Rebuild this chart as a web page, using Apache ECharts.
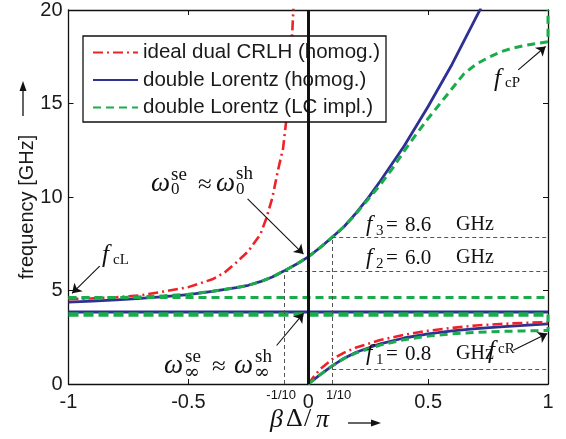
<!DOCTYPE html>
<html><head><meta charset="utf-8">
<script src="https://cdn.jsdelivr.net/npm/echarts@6/dist/echarts.min.js"></script>
<style>html,body{margin:0;padding:0;background:#fff}#c{width:566px;height:439px}</style>
</head><body><div id="c"></div>
<script>
// ---- data ----
const xTicks = [-1, -0.5, 0, 0.5, 1];
const yTicks = [0, 5, 10, 15, 20];
const legendNames = ['ideal dual CRLH (homog.)', 'double Lorentz (homog.)', 'double Lorentz (LC impl.)'];

const redUpperX = [-1, -0.9, -0.8, -0.7, -0.6, -0.5, -0.4, -0.35, -0.3, -0.25, -0.2, -0.175, -0.15, -0.125, -0.105, -0.09, -0.075, -0.063, -0.06];
const redUpperY = [4.53, 4.58, 4.64, 4.74, 4.95, 5.18, 5.6, 5.95, 6.5, 7.1, 8.0, 8.85, 9.95, 11.5, 12.6, 14.3, 16.6, 19.8, 20.5];
const redLowerX = [0, 0.025, 0.05, 0.1, 0.15, 0.2, 0.3, 0.4, 0.5, 0.6, 0.7, 0.8, 0.9, 1];
const redLowerY = [0, 0.42, 0.8, 1.33, 1.68, 1.95, 2.35, 2.63, 2.85, 3.0, 3.13, 3.21, 3.27, 3.3];

const blueUpperX = [-1, -0.9, -0.8, -0.7, -0.6, -0.5, -0.4, -0.3, -0.25, -0.2, -0.15, -0.1, -0.05, 0, 0.05, 0.1, 0.15, 0.2, 0.25, 0.3, 0.4, 0.5, 0.6, 0.7, 0.72];
const blueUpperY = [4.38, 4.43, 4.5, 4.58, 4.67, 4.78, 4.95, 5.15, 5.28, 5.47, 5.72, 6.05, 6.4, 6.8, 7.3, 7.85, 8.42, 9.15, 9.95, 10.84, 12.73, 14.84, 17.1, 19.6, 20.1];
const blueLowerX = [0, 0.05, 0.1, 0.15, 0.2, 0.3, 0.4, 0.5, 0.6, 0.7, 0.8, 0.9, 1];
const blueLowerY = [0, 0.5, 0.97, 1.38, 1.7, 2.15, 2.46, 2.68, 2.84, 2.96, 3.06, 3.14, 3.21];
const blueFlatX = [-1, 1];
const blueFlatY = [3.85, 3.85];

const greenUpperX = [-1, -0.9, -0.8, -0.7, -0.6, -0.5, -0.4, -0.3, -0.25, -0.2, -0.15, -0.1, -0.05, 0, 0.05, 0.1, 0.15, 0.2, 0.25, 0.3, 0.35, 0.4, 0.45, 0.5, 0.55, 0.6, 0.65, 0.7, 0.75, 0.8, 0.85, 0.9, 0.95, 1, 1];
const greenUpperY = [4.6, 4.6, 4.62, 4.66, 4.72, 4.8, 4.96, 5.15, 5.28, 5.47, 5.72, 6.05, 6.4, 6.8, 7.3, 7.85, 8.42, 9.12, 9.88, 10.65, 11.5, 12.45, 13.35, 14.2, 15.0, 15.8, 16.6, 17.1, 17.45, 17.75, 17.95, 18.1, 18.2, 18.3, 20];
const greenLowerX = [0, 0.05, 0.1, 0.15, 0.2, 0.3, 0.4, 0.5, 0.6, 0.7, 0.8, 0.9, 1, 1];
const greenLowerY = [0, 0.5, 0.97, 1.37, 1.67, 2.08, 2.37, 2.56, 2.68, 2.76, 2.81, 2.84, 2.86, 3.72];
const greenFlatHighX = [-1, 1];
const greenFlatHighY = [4.62, 4.62];
const greenFlatLowX = [-1, 1];
const greenFlatLowY = [3.72, 3.72];

// reference dashed lines: [x1, y1, x2, y2]
const f1 = 0.8, f2 = 6.05, f3 = 7.85;
const refLines = [
  [0.1, f1, 1, f1],
  [-0.1, f2, 1, f2],
  [0.1, f3, 1, f3],
  [-0.1, 0, -0.1, f2],
  [0.1, 0, 0.1, f3]
];
// annotation arrows: [fromX, fromY, toX, toY]
const arrows = [
  [-0.253, 9.9, -0.02, 6.95],
  [-0.132, 2.06, -0.02, 3.78],
  [-0.87, 6.3, -0.985, 4.85],
  [0.876, 16.8, 0.99, 18.05],
  [0.855, 1.8, 0.997, 2.7]
];

// ---- build ----
const zip = (xs, ys) => xs.map((x, i) => [x, ys[i]]);
const RED = '#ee2229', BLUE = '#2e3192', GREEN = '#1aab4b';
const redStyle = { color: RED, width: 2.6, type: [10, 4, 2, 4] };
const blueStyle = { color: BLUE, width: 2.8, type: 'solid' };
const greenStyle = { color: GREEN, width: 3, type: [8, 5] };

function line(name, data, ls, z) {
  return { type: 'line', name, data, showSymbol: false, symbol: 'none', lineStyle: ls, itemStyle: { color: ls.color },
    z, silent: true, animation: false, clip: true, emphasis: { disabled: true } };
}

const series = [
  line(legendNames[0], zip(redUpperX, redUpperY), redStyle, 3),
  line(legendNames[1], zip(blueUpperX, blueUpperY), blueStyle, 2),
  line(legendNames[2], zip(greenUpperX, greenUpperY), greenStyle, 4),
  line(legendNames[0], zip(redLowerX, redLowerY), redStyle, 3),
  line(legendNames[1], zip(blueLowerX, blueLowerY), blueStyle, 2),
  line(legendNames[1], zip(blueFlatX, blueFlatY), blueStyle, 2),
  line(legendNames[2], zip(greenLowerX, greenLowerY), greenStyle, 4),
  line(legendNames[2], zip(greenFlatHighX, greenFlatHighY), greenStyle, 4),
  line(legendNames[2], zip(greenFlatLowX, greenFlatLowY), Object.assign({}, greenStyle, { width: 4.5, type: [10, 5] }), 4),
  { type: 'line', name: 'refs', data: [], silent: true, animation: false, z: 1,
    markLine: { silent: true, animation: false, symbol: ['none', 'none'], label: { show: false },
      lineStyle: { color: '#555', width: 1, type: [4, 3] }, emphasis: { disabled: true },
      data: refLines.map(r => [{ coord: [r[0], r[1]] }, { coord: [r[2], r[3]] }]) } },
  { type: 'line', name: 'zero', data: [], silent: true, animation: false, z: 5,
    markLine: { silent: true, animation: false, symbol: ['none', 'none'], label: { show: false },
      lineStyle: { color: '#111', width: 3, type: 'solid' }, emphasis: { disabled: true },
      data: [{ xAxis: 0 }] } },
  { type: 'line', name: 'arrows', data: [], silent: true, animation: false, z: 6,
    markLine: { silent: true, animation: false, symbol: ['none', 'arrow'], symbolSize: 9, label: { show: false },
      itemStyle: { color: '#111' },
      lineStyle: { color: '#111', width: 1.1, type: 'solid' }, emphasis: { disabled: true },
      data: arrows.map(a => [{ coord: [a[0], a[1]] }, { coord: [a[2], a[3]] }]) } }
];

const SANS = '"Liberation Sans", Arial, sans-serif';
const SERIF = '"Liberation Serif", "DejaVu Serif", serif';
const axisCommon = {
  type: 'value', splitLine: { show: false },
  axisLine: { show: true, onZero: false, lineStyle: { color: '#111', width: 1.3 } },
  axisTick: { show: true, inside: true, length: 5, lineStyle: { color: '#111', width: 1 } }
};

const chart = echarts.init(document.getElementById('c'), null, { renderer: 'canvas' });
chart.setOption({
  animation: false,
  backgroundColor: '#fff',
  grid: { left: 68.5, right: 18, top: 6, bottom: 55, containLabel: false },
  xAxis: [
    Object.assign({}, axisCommon, { position: 'bottom', min: xTicks[0], max: xTicks[xTicks.length - 1], interval: 0.5,
      axisLabel: { show: true, fontSize: 20, fontFamily: SANS, color: '#1a1a1a', margin: 8,
        formatter: v => String(v) } }),
    Object.assign({}, axisCommon, { position: 'top', min: xTicks[0], max: xTicks[xTicks.length - 1], interval: 0.5,
      axisLabel: { show: false } })
  ],
  yAxis: [
    Object.assign({}, axisCommon, { position: 'left', min: yTicks[0], max: yTicks[yTicks.length - 1], interval: 5,
      axisLabel: { show: true, fontSize: 20, fontFamily: SANS, color: '#1a1a1a', margin: 6 } }),
    Object.assign({}, axisCommon, { position: 'right', min: yTicks[0], max: yTicks[yTicks.length - 1], interval: 5,
      axisLabel: { show: false } })
  ],
  legend: {
    data: legendNames, orient: 'vertical', left: 83, top: 36,
    backgroundColor: '#fff', borderColor: '#111', borderWidth: 1.3, borderRadius: 0,
    padding: [6, 6, 4, 9], itemGap: 6.5, itemWidth: 45, itemHeight: 20,
    itemStyle: { opacity: 0 },
    textStyle: { fontSize: 20.5, fontFamily: SANS, color: '#1a1a1a' },
    selectedMode: false
  },
  series
});

// annotation texts
function T(x, y, text, size, opts) {
  opts = opts || {};
  return { type: 'text', x, y, silent: true, z: 100,
    style: { text, fontSize: size, fontFamily: opts.family || (opts.sans ? SANS : SERIF), fontStyle: opts.italic ? 'italic' : 'normal',
      fill: '#111', align: opts.align || 'left', verticalAlign: 'middle' } };
}
const INF = { family: '"DejaVu Serif", serif' };
const g = [];
// omega_0 expression
g.push(T(151, 184, 'ω', 27, { italic: true }), T(171, 175, 'se', 19), T(171, 190, '0', 17),
  T(198, 185, '≈', 25), T(216, 184, 'ω', 27, { italic: true }), T(236, 174, 'sh', 19), T(236, 190, '0', 17));
// omega_inf expression
g.push(T(164, 366, 'ω', 27, { italic: true }), T(185, 357, 'se', 19), T(184, 373, '∞', 19, INF),
  T(212, 367, '≈', 25), T(234, 366, 'ω', 27, { italic: true }), T(255, 357, 'sh', 19), T(254, 373, '∞', 19, INF));
// cutoff labels
g.push(T(102, 255, 'f', 25, { italic: true }), T(113, 260, 'cL', 15));
g.push(T(494, 79, 'f', 25, { italic: true }), T(505, 83, 'cP', 15));
g.push(T(488, 351, 'f', 25, { italic: true }), T(498, 349, 'cR', 15));
// f1, f2, f3 labels
[[3, '8.6', 225], [2, '6.0', 258], [1, '0.8', 354]].forEach(([n, v, y]) => {
  g.push(T(366, y, 'f', 23, { italic: true }), T(376, y + 6, String(n), 15), T(386, y, '=', 21),
    T(405, y, v, 21), T(456, y, 'GHz', 20));
});
// small tick labels
g.push(T(296, 395, '-1/10', 13, { sans: true, align: 'right' }), T(326, 395, '1/10', 13, { sans: true }));
// y axis title and arrow
g.push({ type: 'text', x: 27, y: 207, rotation: Math.PI / 2, silent: true,
  style: { text: 'frequency [GHz]', fontSize: 20, fontFamily: SANS, fill: '#1a1a1a', align: 'center', verticalAlign: 'middle' } });
g.push({ type: 'line', silent: true, shape: { x1: 23, y1: 116, x2: 23, y2: 88 }, style: { stroke: '#111', lineWidth: 1.3 } });
g.push({ type: 'polygon', silent: true, shape: { points: [[23, 81], [19.5, 91], [26.5, 91]] }, style: { fill: '#111' } });
// x axis title
g.push(T(270, 420, 'β', 26, { italic: true }), T(286, 419, 'Δ', 26), T(304, 419, '/', 26), T(316, 420, 'π', 26, { italic: true }));
g.push({ type: 'line', silent: true, shape: { x1: 348, y1: 423, x2: 374, y2: 423 }, style: { stroke: '#111', lineWidth: 1.3 } });
g.push({ type: 'polygon', silent: true, shape: { points: [[381, 423], [371, 419.5], [371, 426.5]] }, style: { fill: '#111' } });

chart.setOption({ graphic: g });
</script>
</body></html>
